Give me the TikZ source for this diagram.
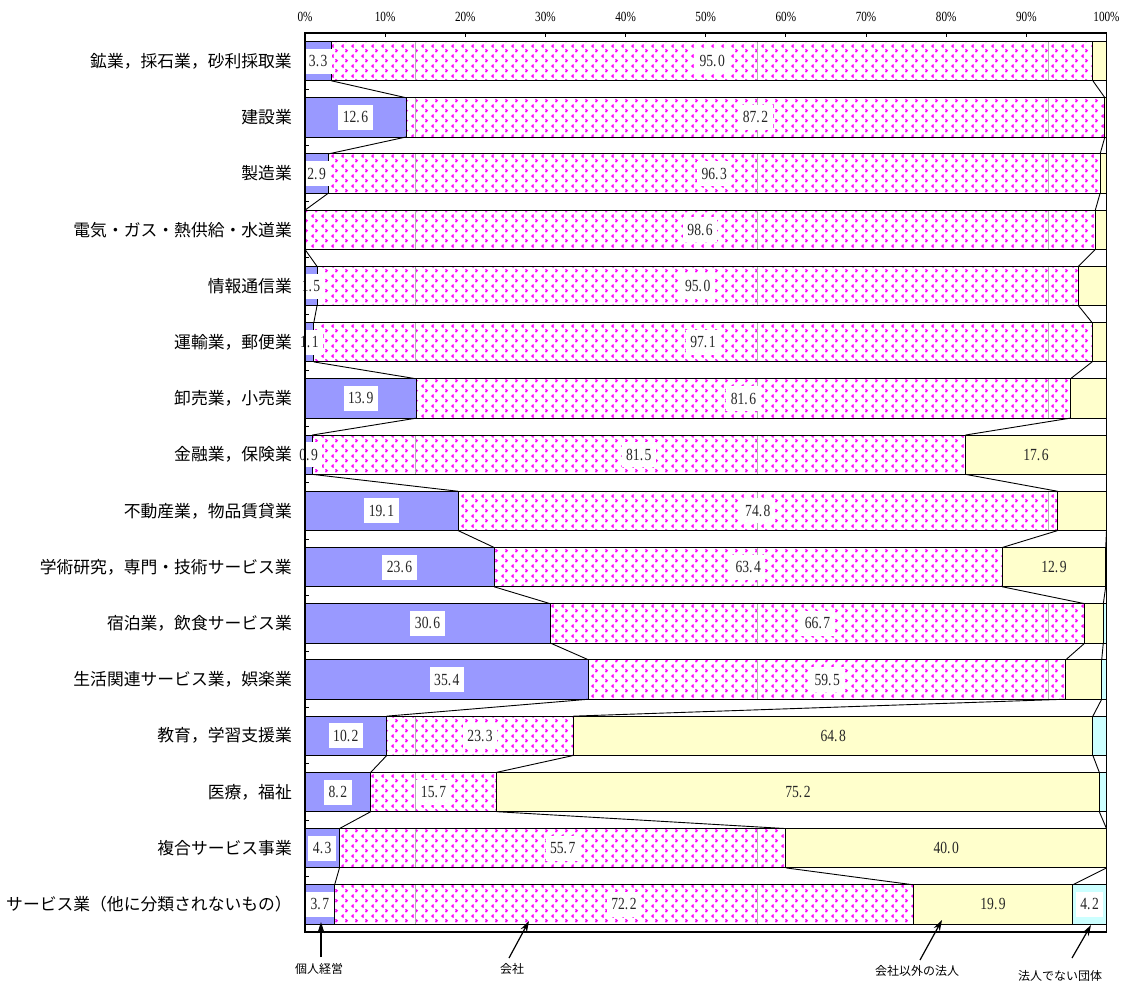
\documentclass[tikz,border=0pt]{standalone}
\usepackage{fontspec}
\setmainfont{Liberation Serif}
\newfontfamily\numf[FakeStretch=0.8]{Liberation Serif}
\newfontfamily\cjk{Noto Sans CJK JP}
\usetikzlibrary{patterns,arrows.meta}
\definecolor{indiv}{RGB}{153,153,255}
\definecolor{corpo}{RGB}{255,255,204}
\definecolor{grp}{RGB}{204,255,255}
\definecolor{pinkm}{RGB}{255,0,255}
\pgfdeclarepatternformonly{chevrons}{\pgfqpoint{0pt}{0pt}}{\pgfqpoint{10pt}{10pt}}{\pgfqpoint{10pt}{10pt}}{%
  \pgfsetlinewidth{1.5pt}%
  \pgfpathmoveto{\pgfqpoint{4pt}{9pt}}%
  \pgfpathlineto{\pgfqpoint{2.2pt}{7.5pt}}%
  \pgfpathlineto{\pgfqpoint{4pt}{6pt}}%
  \pgfpathmoveto{\pgfqpoint{6pt}{4pt}}%
  \pgfpathlineto{\pgfqpoint{7.8pt}{2.5pt}}%
  \pgfpathlineto{\pgfqpoint{6pt}{1pt}}%
  \pgfusepath{stroke}%
}
\def\numsplit#1.#2\relax{#1.\kern1.5pt#2}
\newcommand\numtxt[1]{\expandafter\numsplit#1\relax}
\begin{document}
\begin{tikzpicture}[x=1pt,y=-1pt,
  seg/.style={draw=black,line width=0.9pt},
  seam/.style={draw=black!30,line width=0.8pt},
  vlab/.style={fill=white,inner xsep=4.5pt,inner ysep=0pt,minimum height=25pt,text=black!85,font=\numf\fontsize{17}{17}\selectfont},
  ylab/.style={inner sep=0pt,text=black!85,font=\numf\fontsize{17}{17}\selectfont},
  cat/.style={anchor=east,inner sep=0pt,font=\cjk\fontsize{16.8}{16.8}\selectfont},
  tick/.style={font=\numf\fontsize{14}{14}\selectfont,inner sep=0pt},
  note/.style={font=\cjk\fontsize{12}{12}\selectfont,inner sep=0pt},
  arr/.style={-{Stealth[length=11pt,width=7pt]},line width=1.2pt}]
\useasboundingbox (0,0) rectangle (1125,983);
\foreach \i/\name/\a/\b/\c/\d in {
1/{鉱業，採石業，砂利採取業}/3.3/95.0/1.7/0,
2/{建設業}/12.6/87.2/0.2/0,
3/{製造業}/2.9/96.3/0.8/0,
4/{電気・ガス・熱供給・水道業}/0/98.6/1.4/0,
5/{情報通信業}/1.5/95.0/3.5/0,
6/{運輸業，郵便業}/1.1/97.1/1.8/0,
7/{卸売業，小売業}/13.9/81.6/4.5/0,
8/{金融業，保険業}/0.9/81.5/17.6/0,
9/{不動産業，物品賃貸業}/19.1/74.8/6.1/0,
10/{学術研究，専門・技術サービス業}/23.6/63.4/12.9/0.1,
11/{宿泊業，飲食サービス業}/30.6/66.7/2.3/0.4,
12/{生活関連サービス業，娯楽業}/35.4/59.5/4.5/0.6,
13/{教育，学習支援業}/10.2/23.3/64.8/1.7,
14/{医療，福祉}/8.2/15.7/75.2/0.9,
15/{複合サービス事業}/4.3/55.7/40.0/0,
16/{サービス業（他に分類されないもの）}/3.7/72.2/19.9/4.2}
{
  \pgfmathsetmacro\yt{41.5+(\i-1)*56.22}
  \pgfmathsetmacro\yb{\yt+39.3}
  \pgfmathsetmacro\ym{\yt+19.65}
  \pgfmathsetmacro\xa{305+8.015*\a}
  \pgfmathsetmacro\xb{305+8.015*(\a+\b)}
  \pgfmathsetmacro\xc{305+8.015*(\a+\b+\c)}
  \def\xd{1106.5}
  \coordinate (t\i-1) at (\xa,\yt); \coordinate (u\i-1) at (\xa,\yb);
  \coordinate (t\i-2) at (\xb,\yt); \coordinate (u\i-2) at (\xb,\yb);
  \coordinate (t\i-3) at (\xc,\yt); \coordinate (u\i-3) at (\xc,\yb);
  % individual
  \ifdim\a pt>0pt \fill[indiv] (305,\yt) rectangle (\xa,\yb); \draw[seg] (305,\yt) rectangle (\xa,\yb); \fi
  % company
  \fill[white] (\xa,\yt) rectangle (\xb,\yb);
  \fill[pattern=chevrons,pattern color=pinkm] (\xa,\yt) rectangle (\xb,\yb);
  \begin{scope}
    \clip (\xa,\yt) rectangle (\xb,\yb);
    \foreach \s in {415,757,1048.5} \draw[seam] (\s,\yt) -- (\s,\yb);
  \end{scope}
  \draw[seg] (\xa,\yt) rectangle (\xb,\yb);
  % other corporations
  \ifdim\c pt>0pt \fill[corpo] (\xb,\yt) rectangle (\xc,\yb); \draw[seg] (\xb,\yt) rectangle (\xc,\yb); \fi
  % non-corporate groups
  \ifdim\d pt>0pt \fill[grp] (\xc,\yt) rectangle (\xd,\yb); \draw[seg] (\xc,\yt) rectangle (\xd,\yb); \fi
  % labels
  \node[cat] (cat\i) at (292,\ym) {\name};
  \ifdim\a pt>0pt \node[vlab] (va\i) at ({(305+\xa)/2},\ym) {\numtxt\a}; \fi
  \node[vlab] (vb\i) at ({(\xa+\xb)/2},\ym) {\numtxt\b};
  \ifdim\c pt>9pt \node[ylab] (vc\i) at ({(\xb+\xc)/2},\ym) {\numtxt\c}; \fi
  \ifdim\d pt>4pt \node[vlab] (vd\i) at ({(\xc+\xd)/2},\ym) {\numtxt\d}; \fi
}
% connectors between consecutive bars
\foreach \i in {1,...,15}{
  \pgfmathtruncatemacro\j{\i+1}
  \foreach \k in {1,2,3}{ \draw[seg] (u\i-\k) -- (t\j-\k); }
}
% frame
\draw[line width=1.5pt] (305,33) rectangle (1106.5,932);
\foreach \p in {10,20,...,90} \draw[line width=0.9pt] ({305+8.015*\p},33) -- ++(0,4);
\foreach \p in {0,10,...,100} \node[tick] (tk\p) at ({305+8.015*\p},17) {\p\%};
\foreach \i in {1,...,15} \draw[line width=0.9pt] (305,{41.5+\i*56.22-8.46}) -- ++(4,0);
% annotations
\node[note] (n1) at (319,969) {個人経営};
\node[note] (n2) at (512,969) {会社};
\node[note] (n3) at (917,971) {会社以外の法人};
\node[note] (n4) at (1060,976) {法人でない団体};
\coordinate (n1s) at (321,957); \coordinate (n1e) at (321,922);
\coordinate (n2s) at (509,958); \coordinate (n2e) at (529,921);
\coordinate (n3s) at (920,960); \coordinate (n3e) at (942,920);
\coordinate (n4s) at (1072,958); \coordinate (n4e) at (1091,925);
\draw[arr] (n1s) -- (n1e);
\draw[arr] (n2s) -- (n2e);
\draw[arr] (n3s) -- (n3e);
\draw[arr] (n4s) -- (n4e);
\end{tikzpicture}
\end{document}
